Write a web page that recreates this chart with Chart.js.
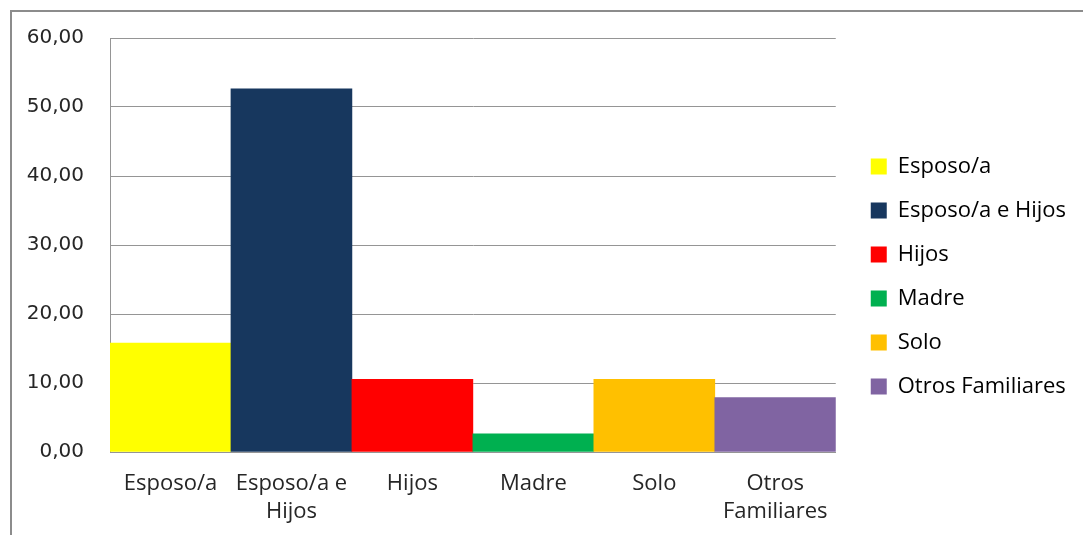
<!DOCTYPE html>
<html>
<head>
<meta charset="utf-8">
<script src="https://cdn.jsdelivr.net/npm/chart.js"></script>
<style>
  html, body { margin: 0; padding: 0; background: #fff; }
  #wrap { width: 1083px; height: 535px; }
</style>
</head>
<body>
<div id="wrap"><canvas id="chart" width="1083" height="535"></canvas></div>
<script>
  // Convivencia: porcentaje por tipo de hogar
  const categories = ["Esposo/a", "Esposo/a e Hijos", "Hijos", "Madre", "Solo", "Otros Familiares"];
  const axisLabels = [["Esposo/a"], ["Esposo/a e", "Hijos"], ["Hijos"], ["Madre"], ["Solo"], ["Otros", "Familiares"]];
  const percentages = [15.79, 52.63, 10.53, 2.63, 10.53, 7.89];
  const barColors = ["#ffff00", "#17375e", "#ff0000", "#00b050", "#ffc000", "#8064a2"];
  const yTicks = [0, 10, 20, 30, 40, 50, 60];

  const textColor = "#262626";
  const gridColor = "#959595";

  // gray frame around the whole chart
  const framePlugin = {
    id: "frame",
    beforeDraw(chart) {
      const ctx = chart.ctx;
      ctx.save();
      ctx.strokeStyle = "#8c8c8c";
      ctx.lineWidth = 2;
      ctx.beginPath();
      ctx.moveTo(11, chart.height);
      ctx.lineTo(11, 11);
      ctx.lineTo(chart.width, 11);
      ctx.stroke();
      ctx.restore();
    }
  };

  // move legend a bit right of the plot area and slightly up
  const legendShift = {
    id: "legendShift",
    afterLayout(chart) {
      const lg = chart.legend;
      if (lg) {
        lg.left += 13;
        lg.right += 13;
        lg.top -= 10;
        lg.bottom -= 10;
      }
    }
  };

  new Chart(document.getElementById("chart"), {
    type: "bar",
    data: {
      labels: axisLabels,
      datasets: [{
        data: percentages,
        backgroundColor: barColors,
        borderWidth: 0,
        barPercentage: 1,
        categoryPercentage: 1
      }]
    },
    options: {
      responsive: false,
      animation: false,
      layout: { padding: { left: 10, top: 38, right: 20, bottom: 0 } },
      plugins: {
        tooltip: { enabled: false },
        legend: {
          position: "right",
          align: "center",
          labels: {
            boxWidth: 16,
            boxHeight: 16,
            padding: 22,
            color: textColor,
            font: { family: "Open Sans", size: 22 },
            generateLabels: () => categories.map((c, i) => ({
              text: c,
              fillStyle: barColors[i],
              strokeStyle: barColors[i],
              lineWidth: 0,
              index: i
            }))
          }
        }
      },
      scales: {
        x: {
          grid: { display: false, drawTicks: false },
          border: { display: true, color: gridColor, width: 1 },
          ticks: {
            color: textColor,
            padding: 17,
            font: { family: "Open Sans", size: 22, lineHeight: 1.3 },
            maxRotation: 0,
            autoSkip: false
          },
          afterFit(s) { s.height = 83; }
        },
        y: {
          min: 0,
          max: 60,
          afterBuildTicks(s) { s.ticks = yTicks.map(v => ({ value: v })); },
          grid: { color: gridColor, lineWidth: 1, drawTicks: false },
          border: { display: true, color: gridColor, width: 1 },
          ticks: {
            color: textColor,
            padding: 26,
            font: { family: "DejaVu Sans", size: 20 },
            callback: v => v.toFixed(2).replace(".", ",")
          },
          afterFit(s) { s.width = 100; }
        }
      }
    },
    plugins: [framePlugin, legendShift]
  });
</script>
</body>
</html>
